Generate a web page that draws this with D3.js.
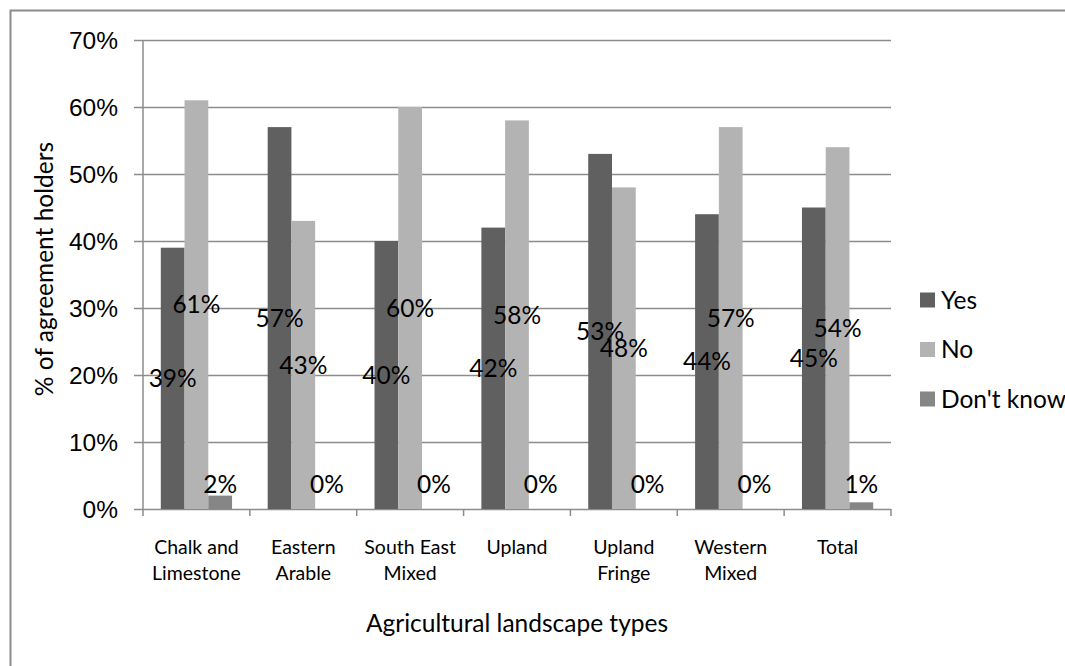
<!DOCTYPE html>
<html>
<head>
<meta charset="utf-8">
<script src="https://cdn.jsdelivr.net/npm/d3@7"></script>
<style>
  html, body { margin: 0; padding: 0; background: #fff; }
  svg { display: block; font-family: Lato, "Open Sans", sans-serif; }
</style>
</head>
<body>
<svg id="chart" width="1065" height="666"></svg>
<script>
// Agreement holders by agricultural landscape type
const categories = [
  ["Chalk and", "Limestone"],
  ["Eastern", "Arable"],
  ["South East", "Mixed"],
  ["Upland"],
  ["Upland", "Fringe"],
  ["Western", "Mixed"],
  ["Total"]
];
const seriesNames = ["Yes", "No", "Don't know"];
const yesValues = [39, 57, 40, 42, 53, 44, 45];
const noValues = [61, 43, 60, 58, 48, 57, 54];
const dontKnowValues = [2, 0, 0, 0, 0, 0, 1];
const yTicks = [0, 10, 20, 30, 40, 50, 60, 70];
const seriesColors = ["#606060", "#b3b3b3", "#868686"];

const seriesValues = [yesValues, noValues, dontKnowValues];
const svg = d3.select("#chart");

// outer chart frame
svg.append("rect")
  .attr("x", 10.5).attr("y", 10.5)
  .attr("width", 1100).attr("height", 700)
  .attr("fill", "none").attr("stroke", "#8c8c8c").attr("stroke-width", 2);

const plot = { left: 143, right: 891, top: 40, bottom: 509 };
const catKeys = categories.map((c, i) => i);

const x0 = d3.scaleBand().domain(catKeys).range([plot.left, plot.right]).padding(0);
const x1 = d3.scaleBand().domain(d3.range(seriesNames.length))
  .range([0, x0.bandwidth()]).paddingInner(0).paddingOuter(0.75);
const y = d3.scaleLinear().domain([0, 70]).range([plot.bottom, plot.top]);

const gridColor = "#8c8c8c";

// horizontal gridlines with left tick stubs
const yAxis = d3.axisLeft(y).tickValues(yTicks)
  .tickSize(-(plot.right - plot.left) - 9)
  .tickFormat(d => d + "%").tickPadding(16);
const gy = svg.append("g").attr("transform", `translate(${plot.left - 9},0)`).call(yAxis);
gy.select(".domain").remove();
gy.selectAll(".tick line").attr("stroke", gridColor).attr("stroke-width", 1.5);
gy.selectAll(".tick text")
  .attr("font-size", 24.5).attr("fill", "#000")
  .attr("dy", "0.36em");

// vertical axis line
svg.append("line")
  .attr("x1", plot.left).attr("x2", plot.left)
  .attr("y1", plot.top).attr("y2", plot.bottom)
  .attr("stroke", gridColor).attr("stroke-width", 1.5);

// category boundary ticks along the baseline
const boundaries = catKeys.map(k => x0(k)).concat([x0(catKeys[catKeys.length - 1]) + x0.bandwidth()]);
svg.append("g").selectAll("line").data(boundaries).join("line")
  .attr("x1", d => d).attr("x2", d => d)
  .attr("y1", plot.bottom).attr("y2", plot.bottom + 7)
  .attr("stroke", gridColor).attr("stroke-width", 1.5);

// bars
const groups = svg.append("g").selectAll("g").data(catKeys).join("g")
  .attr("transform", k => `translate(${x0(k)},0)`);

groups.selectAll("rect")
  .data(k => seriesValues.map((vals, s) => ({ s, v: vals[k] })))
  .join("rect")
  .attr("x", d => x1(d.s))
  .attr("width", x1.bandwidth())
  .attr("y", d => y(d.v))
  .attr("height", d => y(0) - y(d.v))
  .attr("fill", d => seriesColors[d.s]);

// value labels, centred on each bar (kept clear of the baseline for short bars)
groups.selectAll("text.val")
  .data(k => seriesValues.map((vals, s) => ({ s, v: vals[k] })))
  .join("text")
  .attr("class", "val")
  .attr("x", d => x1(d.s) + x1.bandwidth() / 2)
  .attr("y", d => Math.min((y(d.v) + y(0)) / 2, y(0) - 25))
  .attr("dy", "0.36em")
  .attr("text-anchor", "middle")
  .attr("font-size", 24.5)
  .attr("fill", "#000")
  .text(d => d.v + "%");

// category labels
const catLabels = svg.append("g").selectAll("text").data(catKeys).join("text")
  .attr("x", k => x0(k) + x0.bandwidth() / 2)
  .attr("y", 547)
  .attr("text-anchor", "middle")
  .attr("font-size", 19.5)
  .attr("fill", "#000");
catLabels.selectAll("tspan").data(k => categories[k]).join("tspan")
  .attr("x", function () { return d3.select(this.parentNode).attr("x"); })
  .attr("dy", (d, i) => i === 0 ? "0.36em" : "26px")
  .text(d => d);

// axis titles
svg.append("text")
  .attr("x", (plot.left + plot.right) / 2).attr("y", 623)
  .attr("dy", "0.36em")
  .attr("text-anchor", "middle").attr("font-size", 24.5).attr("fill", "#000")
  .text("Agricultural landscape types");

svg.append("text")
  .attr("transform", `translate(44,269) rotate(-90)`)
  .attr("dy", "0.36em")
  .attr("text-anchor", "middle").attr("font-size", 24.5).attr("fill", "#000")
  .text("% of agreement holders");

// legend
const legend = svg.append("g").selectAll("g").data(seriesNames).join("g")
  .attr("transform", (d, i) => `translate(920,${300 + i * 49.5})`);
legend.append("rect")
  .attr("x", 0).attr("y", -7.5).attr("width", 15).attr("height", 15)
  .attr("fill", (d, i) => seriesColors[i]);
legend.append("text")
  .attr("x", 21).attr("y", 0).attr("dy", "0.36em")
  .attr("font-size", 24.5).attr("fill", "#000")
  .text(d => d);
</script>
</body>
</html>
